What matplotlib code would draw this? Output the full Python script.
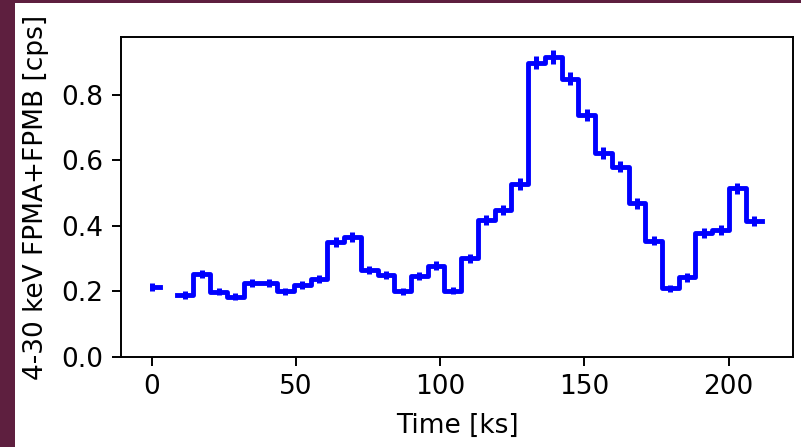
import numpy as np
import matplotlib
matplotlib.use("Agg")
import matplotlib.pyplot as plt
from matplotlib.patches import Rectangle

# ---- data ----
bin_width_ks = 5.8
n_bins = 38
time_ks = np.arange(n_bins) * bin_width_ks
rate_cps = [0.215, np.nan, 0.189, 0.253, 0.199, 0.184, 0.227, 0.226,
            0.200, 0.220, 0.238, 0.352, 0.366, 0.266, 0.250, 0.200,
            0.247, 0.279, 0.202, 0.301, 0.418, 0.449, 0.528, 0.899,
            0.915, 0.849, 0.739, 0.624, 0.581, 0.469, 0.355, 0.210,
            0.243, 0.378, 0.388, 0.515, 0.416, np.nan]
rate_err = [0.012, np.nan, 0.011, 0.013, 0.011, 0.011, 0.012, 0.012,
            0.011, 0.012, 0.012, 0.015, 0.015, 0.013, 0.013, 0.011,
            0.013, 0.013, 0.011, 0.014, 0.015, 0.016, 0.017, 0.021,
            0.021, 0.020, 0.019, 0.018, 0.017, 0.016, 0.014, 0.011,
            0.013, 0.015, 0.015, 0.017, 0.015, np.nan]
x_ticks = [0, 50, 100, 150, 200]
y_ticks = [0.0, 0.2, 0.4, 0.6, 0.8]

W, H = 801, 447
fig = plt.figure(figsize=(W / 100, H / 100), dpi=100)
fig.patch.set_facecolor("#5E1F3F")
fig.patches.append(Rectangle((15 / W, 0), 1 - 15 / W, 1 - 3 / H,
                             transform=fig.transFigure, facecolor="white",
                             edgecolor="none", zorder=-10))

ax = fig.add_axes([121 / W, 1 - 357 / H, (793 - 121) / W, (357 - 37) / H])
ax.set_facecolor("white")

ax.errorbar(time_ks, rate_cps, yerr=rate_err, drawstyle="steps-mid",
            color="blue", lw=3.5, elinewidth=3.6)

ax.set_xlim(-10.6, 222.3)
ax.set_ylim(0, 0.977)
ax.set_xticks(x_ticks)
ax.set_yticks(y_ticks)
ax.set_yticklabels([f"{v:.1f}" for v in y_ticks])

fs = 19
ax.tick_params(labelsize=fs, length=6.3, width=1.4, pad=6.3)
for s in ax.spines.values():
    s.set_linewidth(1.4)
ax.set_xlabel("Time [ks]", fontsize=fs, labelpad=9)
ax.set_ylabel("4-30 keV FPMA+FPMB [cps]", fontsize=fs, labelpad=9)

fig.savefig("out.png", dpi=100, facecolor=fig.get_facecolor())
